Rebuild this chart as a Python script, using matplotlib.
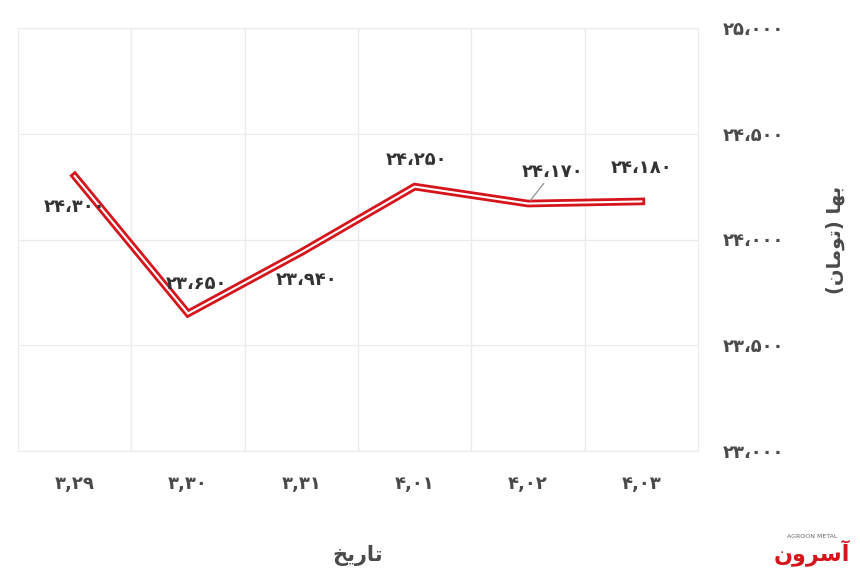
import matplotlib.pyplot as plt

# Persian digits helper
FA = str.maketrans('0123456789', '۰۱۲۳۴۵۶۷۸۹')

def fa(s):
    return s.translate(FA)

# Data
dates = ['3,29', '3,30', '3,31', '4,01', '4,02', '4,03']
prices = [24300, 23650, 23940, 24250, 24170, 24180]
y_ticks = [23000, 23500, 24000, 24500, 25000]

# label offsets in points (dx, dy) for each data label
label_offsets = [(0, -22), (6, 21), (4, -20), (1, 19), (18, 23), (0, 24)]

# shaped (visual order) Persian strings
xlabel_txt = '\uFEA6\uFEF3\uFEAD\uFE8E\uFE97'  # تاریخ
ylabel_txt = '(\uFEE5\uFE8E\uFEE3\uFEEE\uFE97) \uFE8E\uFEEC\uFE91'  # بها (تومان)
logo_txt = '\uFEE5\uFEED\uFEAE\uFEB3\uFE81'  # آسرون

plt.rcParams['font.family'] = ['DejaVu Sans']

fig = plt.figure(figsize=(8.6, 5.79), dpi=100)
ax = fig.add_axes([18 / 860, 1 - 451 / 579, (698 - 18) / 860, (451 - 28) / 579])

x = list(range(len(dates)))
ax.plot(x, prices, color='#d6141c', lw=5.5, solid_joinstyle='miter', zorder=3)
ax.plot(x, prices, color='white', lw=1.5, solid_joinstyle='miter', zorder=4)

ax.set_xlim(-0.5, len(dates) - 0.5)
ax.set_ylim(23000, 25000)

ax.set_yticks(y_ticks)
ax.set_yticklabels([fa(f'{v:,}'.replace(',', '،')) for v in y_ticks])
ax.yaxis.tick_right()
ax.yaxis.set_label_position('right')
ax.set_xticks(x)
ax.set_xticklabels([fa(d) for d in dates])
ax.set_xticks([i + 0.5 for i in x[:-1]], minor=True)

ax.tick_params(axis='both', which='both', length=0, labelsize=13, colors='#4a4a4a')
ax.tick_params(axis='y', pad=18)
ax.tick_params(axis='x', pad=17)
for lbl in ax.get_xticklabels() + ax.get_yticklabels():
    lbl.set_fontweight('bold')

ax.grid(True, which='major', axis='y', color='#ebebeb', lw=1)
ax.grid(True, which='minor', axis='x', color='#ebebeb', lw=1)
for s in ax.spines.values():
    s.set_color('#ebebeb')
ax.set_axisbelow(True)

# data labels
for i, (xi, v) in enumerate(zip(x, prices)):
    dx, dy = label_offsets[i]
    txt = fa(f'{v:,}'.replace(',', '،'))
    arrow = dict(arrowstyle='-', color='#999999', lw=1, shrinkA=0, shrinkB=3) if i == 4 else None
    ax.annotate(txt, xy=(xi, v), xytext=(dx, dy), textcoords='offset points',
                ha='center', va='center', fontsize=13, fontweight='bold', color='#333333',
                arrowprops=arrow, zorder=5)

ax.set_ylabel(ylabel_txt, fontsize=14, fontweight='bold', color='#4a4a4a', labelpad=30)
fig.text(358 / 860, 1 - 556 / 579, xlabel_txt, ha='center', va='center',
         fontsize=15, fontweight='bold', color='#4a4a4a')

# logo
fig.text(812 / 860, 1 - 553 / 579, logo_txt, ha='center', va='center',
         fontsize=16, fontweight='bold', color='#d6141c')
fig.text(812 / 860, 1 - 536 / 579, 'AGROON METAL', ha='center', va='center',
         fontsize=4.5, color='#666666')

fig.savefig('out.png', dpi=100, facecolor='white')
